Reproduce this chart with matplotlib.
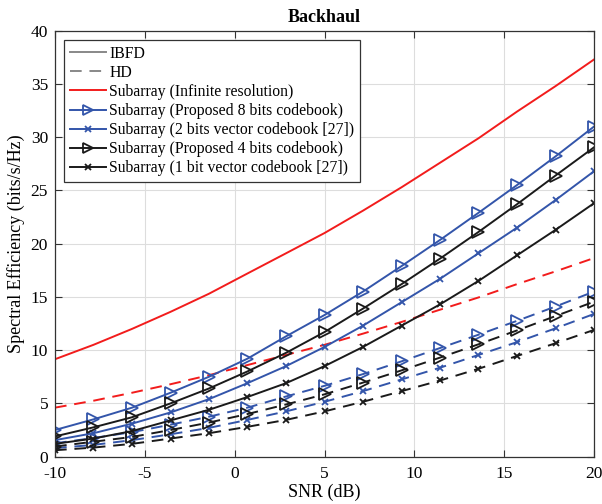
import numpy as np
import matplotlib
matplotlib.use('Agg')
import matplotlib.pyplot as plt
from matplotlib.lines import Line2D

plt.rcParams['font.family'] = ['Liberation Serif', 'DejaVu Serif']
plt.rcParams['axes.unicode_minus'] = False

# SNR grid (dB)
snr = [-10, -7.86, -5.71, -3.57, -1.43, 0.71, 2.86, 5, 7.14, 9.29, 11.43, 13.57, 15.71, 17.86, 20]

# IBFD (solid)
inf_ibfd = [9.15, 10.5, 12.0, 13.6, 15.3, 17.2, 19.1, 21.0, 23.1, 25.3, 27.6, 29.9, 32.4, 34.8, 37.3]
p8_ibfd = [2.5, 3.5, 4.6, 6.0, 7.5, 9.2, 11.3, 13.3, 15.5, 17.9, 20.35, 22.9, 25.5, 28.2, 31.0]
v2_ibfd = [1.55, 2.2, 3.1, 4.15, 5.4, 6.9, 8.5, 10.3, 12.3, 14.5, 16.7, 19.1, 21.5, 24.1, 26.8]
p4_ibfd = [1.9, 2.75, 3.7, 5.0, 6.4, 8.0, 9.75, 11.7, 13.9, 16.2, 18.6, 21.1, 23.7, 26.4, 29.05]
v1_ibfd = [1.2, 1.7, 2.4, 3.4, 4.4, 5.6, 6.9, 8.5, 10.3, 12.3, 14.3, 16.5, 18.9, 21.3, 23.8]

# HD (dashed)
inf_hd = [4.6, 5.25, 6.0, 6.8, 7.65, 8.6, 9.55, 10.5, 11.55, 12.65, 13.8, 14.95, 16.2, 17.4, 18.65]
p8_hd = [1.25, 1.75, 2.3, 3.0, 3.75, 4.6, 5.65, 6.65, 7.75, 8.95, 10.2, 11.45, 12.75, 14.1, 15.5]
v2_hd = [0.8, 1.1, 1.55, 2.1, 2.7, 3.45, 4.25, 5.15, 6.15, 7.25, 8.35, 9.55, 10.75, 12.05, 13.4]
p4_hd = [0.95, 1.4, 1.85, 2.5, 3.2, 4.0, 4.9, 5.85, 6.95, 8.1, 9.3, 10.55, 11.85, 13.2, 14.55]
v1_hd = [0.6, 0.85, 1.2, 1.7, 2.2, 2.8, 3.45, 4.25, 5.15, 6.15, 7.15, 8.25, 9.45, 10.65, 11.9]

RED = '#f21c1c'
BLUE = '#3355aa'
BLACK = '#1a1a1a'
LW = 1.4
DASH = (6, 4)

fig = plt.figure(figsize=(6.02, 5.04), dpi=100)
ax = fig.add_axes([0.0914, 0.094, 0.8953, 0.845])

series = [
    (inf_ibfd, inf_hd, RED, None, 0),
    (p8_ibfd, p8_hd, BLUE, '>', 8),
    (v2_ibfd, v2_hd, BLUE, 'x', 5),
    (p4_ibfd, p4_hd, BLACK, '>', 8),
    (v1_ibfd, v1_hd, BLACK, 'x', 5),
]
for ibfd, hd, col, mk, ms in series:
    ax.plot(snr, ibfd, color=col, lw=LW, marker=mk, ms=ms, mfc='none', mew=1.3)
    ax.plot(snr, hd, color=col, lw=LW, marker=mk, ms=ms, mfc='none', mew=1.3,
            dashes=DASH)

ax.set_xlim(-10, 20)
ax.set_ylim(0, 40)
ax.set_xticks(np.arange(-10, 21, 5))
ax.set_yticks(np.arange(0, 41, 5))
ax.grid(True, color='#dddddd', lw=0.8)
ax.tick_params(direction='in', top=True, right=True, labelsize=12.5, length=5,
               color='#333333', pad=5)
ax.tick_params(axis='x', pad=7)
for s in ax.spines.values():
    s.set_color('#333333')
    s.set_linewidth(0.9)

ax.set_xlabel('SNR (dB)', fontsize=13, labelpad=1)
ax.set_ylabel('Spectral Efficiency (bits/s/Hz)', fontsize=13, labelpad=4)
ax.set_title('Backhaul', fontsize=13, fontweight='bold', pad=6)

handles = [
    Line2D([], [], color='#888888', lw=LW),
    Line2D([], [], color='#888888', lw=LW, dashes=DASH),
    Line2D([], [], color=RED, lw=LW),
    Line2D([], [], color=BLUE, lw=LW, marker='>', ms=7, mfc='none', mew=1.3),
    Line2D([], [], color=BLUE, lw=LW, marker='x', ms=4, mew=1.3),
    Line2D([], [], color=BLACK, lw=LW, marker='>', ms=7, mfc='none', mew=1.3),
    Line2D([], [], color=BLACK, lw=LW, marker='x', ms=4, mew=1.3),
]
labels = [
    'IBFD',
    'HD',
    'Subarray (Infinite resolution)',
    'Subarray (Proposed 8 bits codebook)',
    'Subarray (2 bits vector codebook [27])',
    'Subarray (Proposed 4 bits codebook)',
    'Subarray (1 bit vector codebook [27])',
]
leg = ax.legend(handles, labels, loc='upper left', fontsize=11.3, fancybox=False,
                edgecolor='#333333', framealpha=1, handlelength=2.3,
                handletextpad=0.2, labelspacing=0.2, borderpad=0.35,
                borderaxespad=0.6)
leg.get_frame().set_linewidth(0.9)

fig.savefig('out.png', dpi=100)
